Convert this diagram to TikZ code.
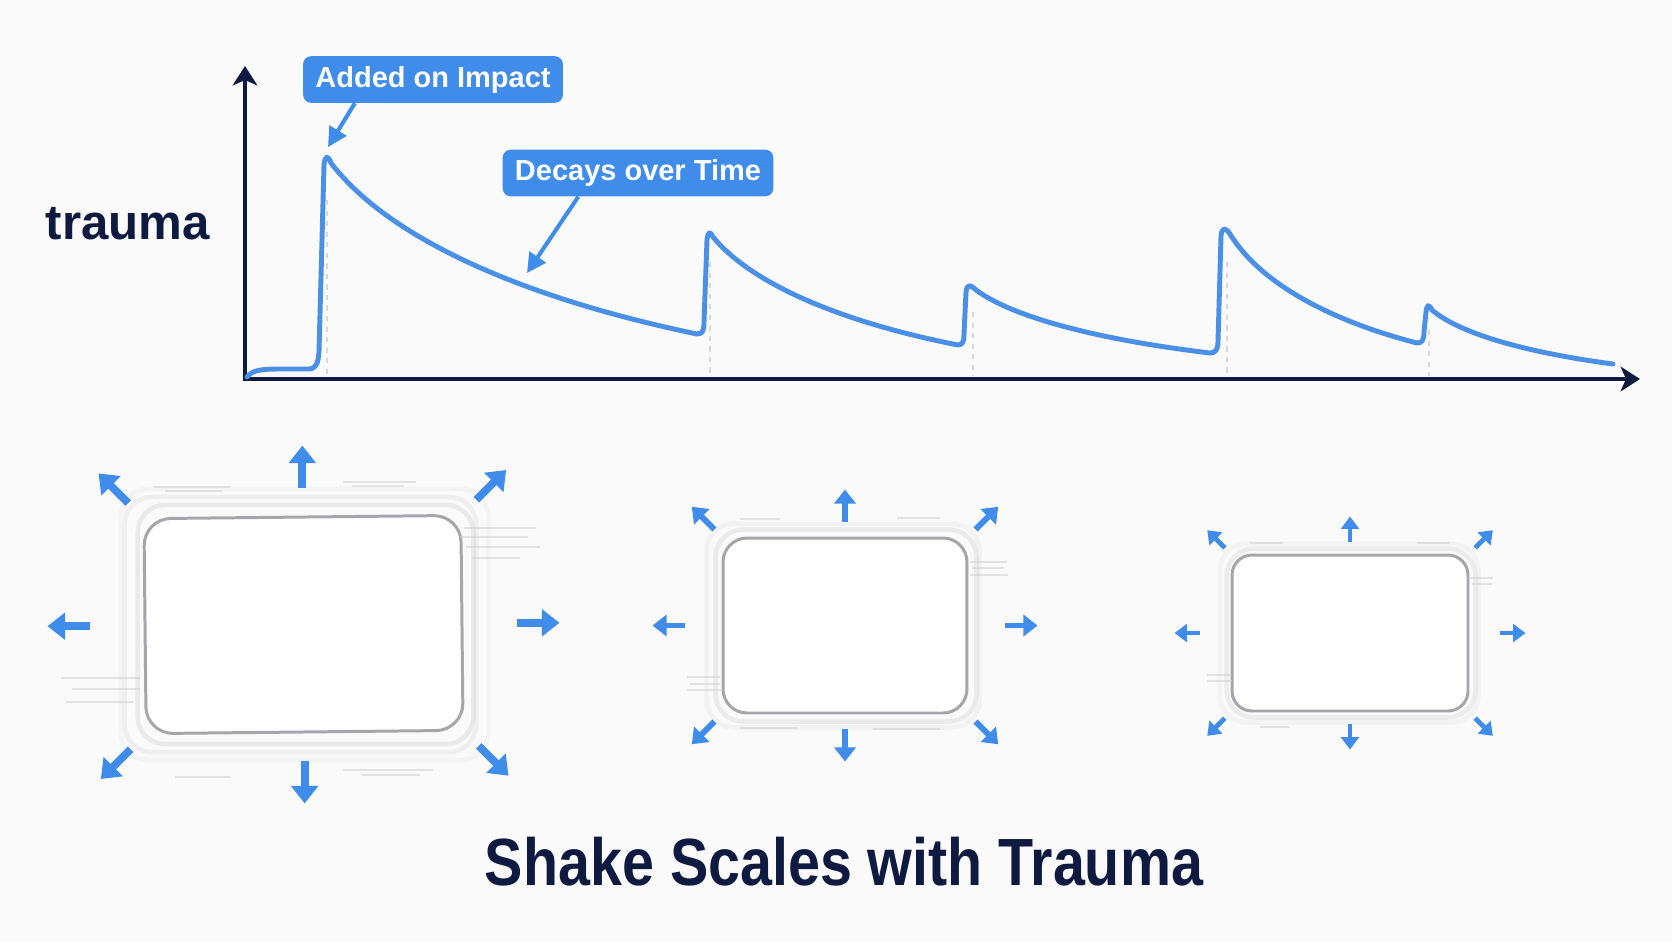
\documentclass[tikz,border=0pt]{standalone}
\usepackage{fontspec}
\setmainfont{Liberation Sans}
\newfontfamily\titlefont{Liberation Sans}[FakeStretch=0.86]
\usetikzlibrary{arrows.meta,calc}
\definecolor{navy}{HTML}{0E1A40}
\definecolor{tagblue}{HTML}{3F8CEB}
\definecolor{curveblue}{HTML}{4A90E6}
\definecolor{framegray}{HTML}{A6A6AA}
\definecolor{bgwhite}{HTML}{FAFAFB}
\tikzset{
        lbl/.style={fill=tagblue,text=white,rounded corners=4.5pt,inner xsep=7pt,minimum height=26.5pt,
                    font=\fontsize{16.5}{19}\selectfont\bfseries},
        callout/.style={draw=tagblue,line width=2.3pt,-{Triangle[length=11pt,width=11pt]}},
        axis/.style={draw=navy,line width=2.8pt},
        curve/.style={draw=curveblue,line width=2.8pt,line cap=round,line join=round},
        peakmark/.style={draw=gray!30,dashed,line width=0.8pt},
        frame/.style={draw=framegray,fill=white,line width=1.7pt},
        ghost/.style={draw=gray!45,line width=2.6pt,rounded corners=0.55cm},
        streak/.style={draw=gray!35,line width=1.1pt},
        shakeL/.style={draw=tagblue,line width=4.4pt,-{Triangle[length=10pt,width=15pt]}},
        shakeM/.style={draw=tagblue,line width=3.3pt,-{Triangle[length=8pt,width=12pt]}},
        shakeS/.style={draw=tagblue,line width=2.7pt,-{Triangle[length=7pt,width=10pt]}}
}
\begin{document}
\begin{tikzpicture}[x=0.02cm,y=-0.02cm]
        %sfondo
        \useasboundingbox[fill=bgwhite](0,0)rectangle(1672,941);
        %nome asse y
        \node[anchor=base,text=navy,font=\fontsize{28}{32}\selectfont\bfseries] (ylabel) at (128,239) {trauma};
        %tratteggi sotto i picchi
        \foreach \px/\py in {327/200,710/262,973/312,1227/262,1429/330}
                \draw[peakmark](\px,\py)--(\px,376);
        %disegno assi
        \coordinate (ytop) at (245,66);
        \coordinate (origin) at (245,379);
        \coordinate (xend) at (1640,379);
        \draw[axis,{Stealth[length=11pt,width=14pt,inset=3pt]}-{Stealth[length=11pt,width=14pt,inset=3pt]}]
                (ytop)--(origin)--(xend);
        %disegno curva del trauma
        \draw[curve](247,377)..controls (252,370) and (262,369)..(280,369)--(308,369)
                ..controls (316,369) and (318,364)..(319,352)--(324,165)
                ..controls (325,155) and (328,155)..(331,163)
                ..controls (386,235) and (514,296)..(697,334)
                ..controls (703,334) and (704,330)..(704,322)--(707,240)
                ..controls (708,231) and (710,231)..(713,237)
                ..controls (750,282) and (836,321)..(958,345)
                ..controls (963,345) and (964,341)..(964,334)--(966,292)
                ..controls (967,284) and (970,284)..(976,290)
                ..controls (1011,316) and (1093,339)..(1210,353)
                ..controls (1216,353) and (1218,349)..(1218,341)--(1221,236)
                ..controls (1222,227) and (1225,227)..(1230,234)
                ..controls (1258,280) and (1324,319)..(1417,343)
                ..controls (1422,343) and (1424,340)..(1424,332)--(1426,312)
                ..controls (1427,304) and (1429,304)..(1432,310)
                ..controls (1459,333) and (1523,352)..(1613,364);
        %etichette
        \node[lbl] (impact) at (433,79.5) {Added on Impact};
        \node[lbl] (decay) at (638,173) {Decays over Time};
        \coordinate (impacttip) at (328,147);
        \coordinate (decaytip) at (527,273);
        \draw[callout]($(impact.south west)!0.2!(impact.south east)$)--(impacttip);
        \draw[callout]($(decay.south west)!0.28!(decay.south east)$)--(decaytip);
        %riquadri che tremano
        \node[frame,minimum width=6.34cm,minimum height=4.3cm,rounded corners=0.54cm,rotate=0.6] (big) at (303.5,624.5) {};
        \node[frame,minimum width=4.88cm,minimum height=3.5cm,rounded corners=0.48cm] (mid) at (845,625.5) {};
        \node[frame,minimum width=4.72cm,minimum height=3.12cm,rounded corners=0.4cm] (small) at (1350,633) {};
        %aloni
        \foreach \b/\o/\sx/\op in {big/9/2/.3,big/17/-3/.2,big/25/1/.1,mid/7/1/.28,mid/13/-2/.14,small/5/1/.25,small/10/-1/.12}
                \draw[ghost,opacity=\op]($(\b.south west)+(-\o+\sx,\o)$)rectangle($(\b.north east)+(\o+\sx,-\o)$);
        %scie di movimento
        \foreach \xa/\xb/\yy in {154/230/487,165/222/491,343/416/482,352/404/486,464/536/528,460/528/537,
                466/540/547,472/520/558,61/140/678,72/140/689,66/134/702,175/230/777,343/433/770,362/420/775,
                740/780/519,897/940/518,970/1007/562,972/1004/568,970/1008/575,687/720/677,690/720/684,
                687/722/690,740/797/728,873/940/729,1250/1283/543,1417/1450/543,1470/1493/578,1472/1492/584,
                1207/1230/675,1207/1232/681,1260/1290/727}
                \draw[streak,opacity=.6](\xa,\yy)--(\xb,\yy);
        %frecce di scuotimento
        \foreach \b/\gv/\gh/\gd/\len/\sty in {big/28/54/20/42/shakeL,mid/15/37/10/32/shakeM,small/12/31/8/25/shakeS}{
                \foreach \an/\ang/\g in {north/270/\gv,south/90/\gv,west/180/\gh,east/0/\gh,
                        north west/225/\gd,north east/315/\gd,south west/135/\gd,south east/45/\gd}
                        \draw[\sty]($(\b.\an)+(\ang:\g)$)--++(\ang:\len);
        }
        %titolo
        \node[anchor=base,text=navy,font=\titlefont\fontsize{38}{44}\selectfont\bfseries] (title) at (844,885)
                {Shake Scales with Trauma};
\end{tikzpicture}
\end{document}
